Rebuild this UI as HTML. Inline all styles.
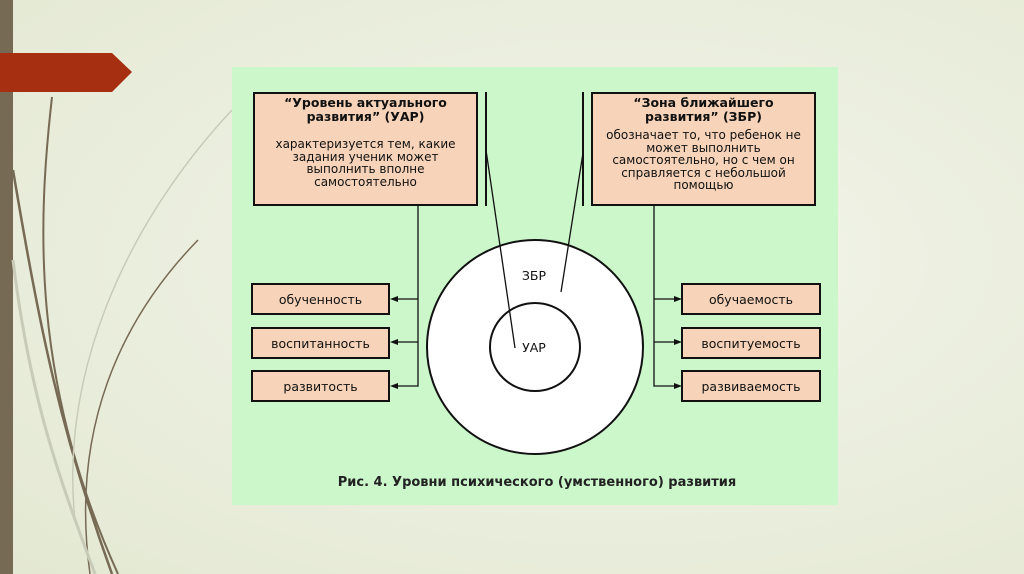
<!DOCTYPE html>
<html><head><meta charset="utf-8"><style>
body{margin:0;width:1024px;height:574px;overflow:hidden;background:radial-gradient(ellipse at 60% 45%,#f3f5ea,#e3e8d2);font-family:"Liberation Sans","DejaVu Sans",sans-serif;position:relative}
.a{position:absolute}
.box{position:absolute;background:#f7d4b9;border:2px solid #111;box-sizing:border-box;text-align:center;color:#111;font-family:"DejaVu Sans","Liberation Sans",sans-serif;}
.t{font-weight:bold;font-size:12.5px;line-height:14px}
.b{font-size:12px;line-height:12.5px}
.s{font-size:12.5px;display:flex;align-items:center;justify-content:center}
</style></head><body>
<svg class="a" style="left:0;top:0" width="1024" height="574">
<rect x="0" y="0" width="13" height="574" fill="#776a54"/>
<path d="M0 53 H112 L132 72 L112 92 H0Z" fill="#a52f10"/>
<path d="M52 97 C38 220 30 380 118 574" stroke="#776a54" stroke-width="2" fill="none"/>
<path d="M13 170 C40 330 60 430 112 574" stroke="#776a54" stroke-width="2.5" fill="none"/>
<path d="M198 240 C120 320 70 430 90 574" stroke="#776a54" stroke-width="1.5" fill="none"/>
<path d="M232 110 C120 230 60 380 75 520" stroke="#c8cbb8" stroke-width="1.5" fill="none"/>
<path d="M13 260 C30 400 60 480 95 574" stroke="#c8cbb8" stroke-width="3" fill="none"/>
<rect x="232" y="67" width="606" height="438" fill="#cbf7cb"/>
<g stroke="#111" fill="none" stroke-width="1.3">
<ellipse cx="535" cy="347" rx="108" ry="107" fill="#fff" stroke-width="2"/>
<ellipse cx="535" cy="347" rx="45" ry="44" stroke-width="2"/>
<line x1="486" y1="92" x2="486" y2="206" stroke-width="2"/>
<line x1="583" y1="92" x2="583" y2="206" stroke-width="2"/>
<line x1="486" y1="150" x2="515" y2="348"/>
<line x1="583" y1="153" x2="561" y2="292"/>
<polyline points="418,206 418,386 396,386"/>
<line x1="418" y1="299" x2="396" y2="299"/>
<line x1="418" y1="342" x2="396" y2="342"/>
<polyline points="654,206 654,386 676,386"/>
<line x1="654" y1="299" x2="676" y2="299"/>
<line x1="654" y1="342" x2="676" y2="342"/>
</g>
<g fill="#111">
<path d="M390 299 l8 -3 v6z"/><path d="M390 342 l8 -3 v6z"/><path d="M390 386 l8 -3 v6z"/>
<path d="M682 299 l-8 -3 v6z"/><path d="M682 342 l-8 -3 v6z"/><path d="M682 386 l-8 -3 v6z"/>
</g>
<text x="534" y="280" font-family="DejaVu Sans" font-size="12.5" text-anchor="middle" fill="#111">ЗБР</text>
<text x="534" y="352" font-family="DejaVu Sans" font-size="12.5" text-anchor="middle" fill="#111">УАР</text>
<text x="537" y="486" font-family="DejaVu Sans" font-size="13" font-weight="bold" text-anchor="middle" fill="#222">Рис. 4. Уровни психического (умственного) развития</text>
</svg>
<div class="box" style="left:253px;top:92px;width:225px;height:114px;padding-top:2px">
<div class="t">“Уровень актуального<br>развития” (УАР)</div>
<div class="b" style="margin-top:14px">характеризуется тем, какие<br>задания ученик может<br>выполнить вполне<br>самостоятельно</div></div>
<div class="box" style="left:591px;top:92px;width:225px;height:114px;padding-top:2px">
<div class="t">“Зона ближайшего<br>развития” (ЗБР)</div>
<div class="b" style="margin-top:5px">обозначает то, что ребенок не<br>может выполнить<br>самостоятельно, но с чем он<br>справляется с небольшой<br>помощью</div></div>
<div class="box s" style="left:251px;top:283px;width:139px;height:32px">обученность</div>
<div class="box s" style="left:251px;top:327px;width:139px;height:32px">воспитанность</div>
<div class="box s" style="left:251px;top:370px;width:139px;height:32px">развитость</div>
<div class="box s" style="left:681px;top:283px;width:140px;height:32px">обучаемость</div>
<div class="box s" style="left:681px;top:327px;width:140px;height:32px">воспитуемость</div>
<div class="box s" style="left:681px;top:370px;width:140px;height:32px">развиваемость</div>
</body></html>
